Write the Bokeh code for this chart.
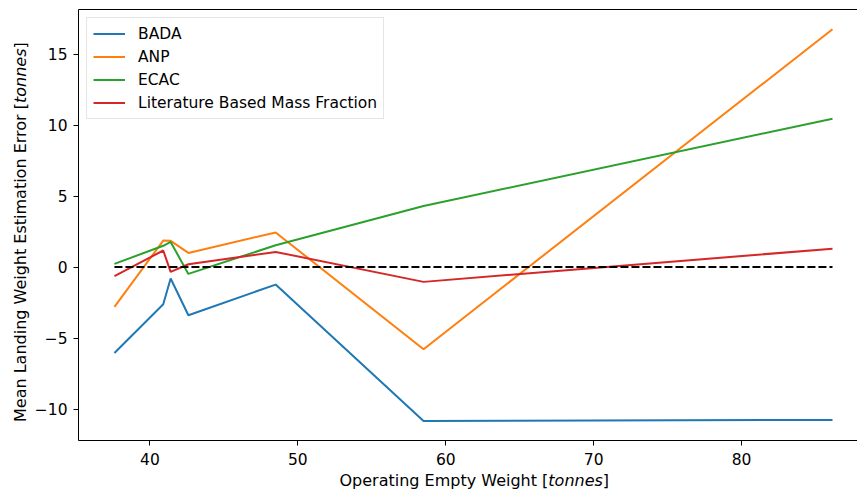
from bokeh.plotting import figure
from bokeh.layouts import row, column
from bokeh.models import Range1d, LinearAxis, FixedTicker, Legend, LegendItem, Div
from bokeh.embed import file_html
from bokeh.resources import INLINE

# ---- data ----
oew = [37.6, 40.9, 41.4, 42.6, 48.5, 58.5, 86.15]
bada = [-6.05, -2.61, -0.80, -3.39, -1.23, -10.83, -10.76]
anp = [-2.80, 1.87, 1.85, 1.00, 2.44, -5.78, 16.75]
ecac = [0.23, 1.50, 1.77, -0.48, 1.54, 4.30, 10.45]
lbmf = [-0.64, 1.17, -0.34, 0.20, 1.07, -1.04, 1.30]
zero_x = [oew[0], oew[-1]]
zero_y = [0, 0]

series_names = ["BADA", "ANP", "ECAC", "Literature Based Mass Fraction"]
series_colors = ["#1f77b4", "#ff7f0e", "#2ca02c", "#d62728"]

x_ticks = [40, 50, 60, 70, 80]
y_ticks = [-10, -5, 0, 5, 10, 15]
y_tick_labels = {-10: "\u221210", -5: "\u22125", 0: "0", 5: "5", 10: "10", 15: "15"}

x_label_parts = ["Operating Empty Weight [", "tonnes", "]"]
y_label_parts = ["Mean Landing Weight Estimation Error [", "tonnes", "]"]

# ---- layout ----
W, H = 857, 493
YLAB_W = 30
XLAB_H = 20
PW, PH = W - YLAB_W, H - XLAB_H
X0, X1 = 35.17, 87.84
Y0, Y1 = -12.21, 18.14

p = figure(width=PW, height=PH, x_range=Range1d(X0, X1), y_range=Range1d(Y0, Y1),
           output_backend="svg", toolbar_location=None,
           min_border_left=48, min_border_right=0, min_border_top=9, min_border_bottom=33)
p.background_fill_color = "white"
p.border_fill_color = "white"
p.outline_line_color = None
p.xgrid.visible = False
p.ygrid.visible = False

FONT = "DejaVu Sans"
TICK_FS = "15.5px"

for ax in (p.xaxis[0], p.yaxis[0]):
    ax.axis_line_color = "black"
    ax.axis_line_width = 1
    ax.major_tick_line_color = "black"
    ax.major_tick_in = 0
    ax.major_tick_out = 5
    ax.minor_tick_line_color = None
    ax.major_label_text_font = FONT
    ax.major_label_text_font_size = TICK_FS
    ax.major_label_text_color = "black"

p.xaxis.ticker = FixedTicker(ticks=x_ticks)
p.yaxis.ticker = FixedTicker(ticks=y_ticks)
p.yaxis.major_label_overrides = y_tick_labels
p.xaxis.major_label_standoff = 7
p.yaxis.major_label_standoff = 6

# top spine
top = LinearAxis(ticker=FixedTicker(ticks=[]), axis_line_color="black",
                 major_tick_line_color=None, minor_tick_line_color=None,
                 major_label_text_font_size="0px", major_label_standoff=0)
p.add_layout(top, "above")

renderers = []
for ys, c in zip([bada, anp, ecac, lbmf], series_colors):
    r = p.line(oew, ys, line_color=c, line_width=2)
    renderers.append(r)

p.line(zero_x, zero_y, line_color="black", line_width=2, line_dash="8 3")

legend = Legend(items=[LegendItem(label=n, renderers=[r]) for n, r in zip(series_names, renderers)],
                location="top_left")
legend.margin = 8
legend.padding = 6
legend.spacing = 4
legend.label_height = 19
legend.glyph_height = 19
legend.glyph_width = 32
legend.label_standoff = 13
legend.label_text_font = FONT
legend.label_text_font_size = "15.5px"
legend.label_text_color = "black"
legend.border_line_color = "#cccccc"
legend.border_line_width = 1
legend.background_fill_color = "white"
legend.background_fill_alpha = 0.8
p.add_layout(legend)

# ---- axis labels (HTML text, with italic unit) ----
TXT = "font-family:'DejaVu Sans'; font-size:16px; line-height:18px; color:black; white-space:nowrap;"

def label_html(parts):
    return f"{parts[0]}<i>{parts[1]}</i>{parts[2]}"

ylab = Div(width=YLAB_W, height=PH, margin=0, text=(
    f"<div style=\"position:relative; width:{YLAB_W}px; height:{PH}px;\">"
    f"<div style=\"position:absolute; left:12px; top:421.5px; transform:rotate(-90deg); "
    f"transform-origin:0 0; {TXT}\">{label_html(y_label_parts)}</div></div>"))

xlab = Div(width=W, height=XLAB_H, margin=0, text=(
    f"<div style=\"position:relative; width:{W}px; height:{XLAB_H}px;\">"
    f"<div style=\"position:absolute; left:339.5px; top:-1.5px; {TXT}\">"
    f"{label_html(x_label_parts)}</div></div>"))

layout = column(row(ylab, p, spacing=0), xlab, spacing=0)

open("out.html", "w").write(file_html(layout, INLINE))
